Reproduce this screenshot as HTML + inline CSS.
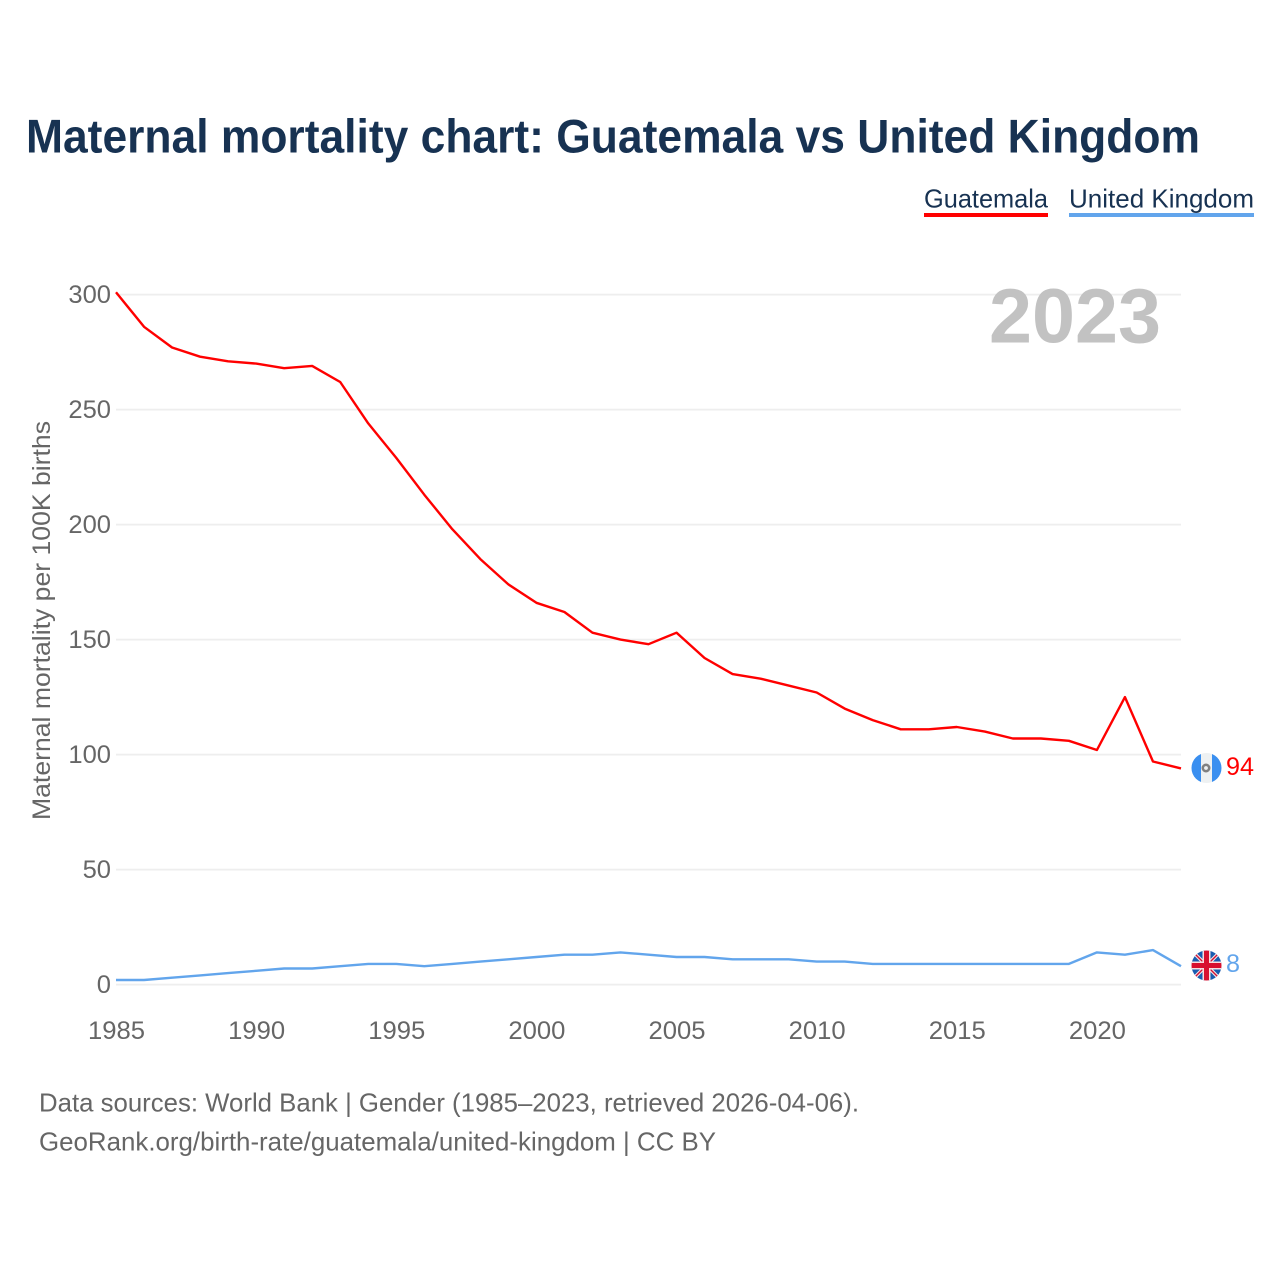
<!DOCTYPE html>
<html lang="en">
<head>
<meta charset="utf-8">
<title>Maternal mortality chart: Guatemala vs United Kingdom</title>
<style>
html,body{margin:0;padding:0;background:#fff;width:1280px;height:1280px;overflow:hidden}
svg{display:block;font-family:"Liberation Sans",sans-serif}
</style>
</head>
<body>
<svg id="chart" xmlns="http://www.w3.org/2000/svg" width="1280" height="1280" viewBox="0 0 1280 1280">
  <defs>
    <clipPath id="clip-gt"><circle cx="1206.5" cy="768" r="15"/></clipPath>
    <clipPath id="clip-uk"><circle cx="1206.5" cy="965.5" r="15"/></clipPath>
  </defs>
  <rect width="1280" height="1280" fill="#fff"/>
  <text x="26" y="152.5" font-size="47.5" font-weight="700" fill="#173252" textLength="1174" lengthAdjust="spacingAndGlyphs">Maternal mortality chart: Guatemala vs United Kingdom</text>

  <g>
    <text x="924" y="207.5" font-size="26" fill="#173252" textLength="124" lengthAdjust="spacingAndGlyphs">Guatemala</text>
    <rect x="924" y="213" width="124" height="4" fill="#ff0000"/>
  </g>
  <g>
    <text x="1069" y="207.5" font-size="26" fill="#173252" textLength="185" lengthAdjust="spacingAndGlyphs">United Kingdom</text>
    <rect x="1069" y="213" width="185" height="4" fill="#62a5ec"/>
  </g>

  <g id="grid"></g>
  <g id="y-ticks"></g>
  <g id="x-ticks"></g>

  <text transform="translate(50,820) rotate(-90)" font-size="25" fill="#666" textLength="399" lengthAdjust="spacingAndGlyphs">Maternal mortality per 100K births</text>

  <text x="989" y="342.5" font-size="77" font-weight="700" fill="#c2c2c2" textLength="172" lengthAdjust="spacingAndGlyphs">2023</text>

  <polyline id="line-guatemala" fill="none" stroke="#ff0000" stroke-width="2.4" stroke-linejoin="round"/>
  <polyline id="line-uk" fill="none" stroke="#62a5ec" stroke-width="2.4" stroke-linejoin="round"/>

  <g clip-path="url(#clip-gt)">
    <rect x="1191" y="752" width="31" height="32" fill="#eef1f2"/>
    <rect x="1191" y="752" width="10" height="32" fill="#3a8ff0"/>
    <rect x="1212" y="752" width="10" height="32" fill="#3a8ff0"/>
    <circle cx="1206" cy="768" r="3.2" fill="none" stroke="#808080" stroke-width="2.6"/>
  </g>

  <g clip-path="url(#clip-uk)">
    <rect x="1191" y="950" width="31" height="31" fill="#1a5cb0"/>
    <path d="M1191 950L1222 981M1222 950L1191 981" stroke="#f4e6e6" stroke-width="3.6"/>
    <path d="M1191 950L1222 981M1222 950L1191 981" stroke="#d21034" stroke-width="1.4"/>
    <rect x="1191" y="961.5" width="31" height="8" fill="#f6dfe0"/>
    <rect x="1202.5" y="950" width="8" height="31" fill="#f6dfe0"/>
    <rect x="1191" y="963" width="31" height="5" fill="#d8102f"/>
    <rect x="1204" y="950" width="5" height="31" fill="#d8102f"/>
  </g>

  <text id="end-guatemala" x="1226" y="775" font-size="25" fill="#ff0000" textLength="28" lengthAdjust="spacingAndGlyphs"></text>
  <text id="end-uk" x="1226" y="972" font-size="25" fill="#62a5ec" textLength="14" lengthAdjust="spacingAndGlyphs"></text>

  <text x="39" y="1111.5" font-size="26" fill="#666" textLength="820" lengthAdjust="spacingAndGlyphs">Data sources: World Bank | Gender (1985–2023, retrieved 2026-04-06).</text>
  <text x="39" y="1150.5" font-size="26" fill="#666" textLength="677" lengthAdjust="spacingAndGlyphs">GeoRank.org/birth-rate/guatemala/united-kingdom | CC BY</text>
</svg>
<script>
const years = [1985,1986,1987,1988,1989,1990,1991,1992,1993,1994,1995,1996,1997,1998,1999,2000,2001,2002,2003,2004,2005,2006,2007,2008,2009,2010,2011,2012,2013,2014,2015,2016,2017,2018,2019,2020,2021,2022,2023];
const guatemalaValues = [301,286,277,273,271,270,268,269,262,244,229,213,198,185,174,166,162,153,150,148,153,142,135,133,130,127,120,115,111,111,112,110,107,107,106,102,125,97,94];
const ukValues = [2,2,3,4,5,6,7,7,8,9,9,8,9,10,11,12,13,13,14,13,12,12,11,11,11,10,10,9,9,9,9,9,9,9,9,14,13,15,8];
const yTickLabels = [0,50,100,150,200,250,300];
const xTickLabels = [1985,1990,1995,2000,2005,2010,2015,2020];

const NS = 'http://www.w3.org/2000/svg';
function xScale(year) { return 116 + (year - 1985) * (1181 - 116) / (2023 - 1985); }
function yScale(value) { return 984.6 - value * (984.6 - 294.6) / 300; }
function pointsFor(values) {
  return values.map(function (v, i) { return xScale(years[i]).toFixed(2) + ',' + yScale(v).toFixed(2); }).join(' ');
}

const gridGroup = document.getElementById('grid');
const yGroup = document.getElementById('y-ticks');
const xGroup = document.getElementById('x-ticks');

yTickLabels.forEach(function (t) {
  const line = document.createElementNS(NS, 'line');
  
  
  line.setAttribute('x1', 116);
  line.setAttribute('x2', 1181);
  line.setAttribute('y1', yScale(t));
  line.setAttribute('y2', yScale(t));
  line.setAttribute('stroke', '#eeeeee');
  line.setAttribute('stroke-width', '1.8');
  gridGroup.appendChild(line);

  const label = document.createElementNS(NS, 'text');
  
  
  const str = String(t);
  label.setAttribute('x', 111 - 14.2 * str.length);
  label.setAttribute('y', yScale(t) + 8.2);
  label.setAttribute('font-size', '25');
  label.setAttribute('fill', '#666');
  label.setAttribute('textLength', 14.2 * str.length);
  label.setAttribute('lengthAdjust', 'spacingAndGlyphs');
  label.textContent = str;
  yGroup.appendChild(label);
});

xTickLabels.forEach(function (t) {
  const label = document.createElementNS(NS, 'text');
  
  
  label.setAttribute('x', xScale(t) - 28);
  label.setAttribute('y', 1039);
  label.setAttribute('font-size', '25');
  label.setAttribute('fill', '#666');
  label.setAttribute('textLength', 57);
  label.setAttribute('lengthAdjust', 'spacingAndGlyphs');
  label.textContent = String(t);
  xGroup.appendChild(label);
});

document.getElementById('line-guatemala').setAttribute('points', pointsFor(guatemalaValues));
document.getElementById('line-uk').setAttribute('points', pointsFor(ukValues));
document.getElementById('end-guatemala').textContent = String(guatemalaValues[guatemalaValues.length - 1]);
document.getElementById('end-uk').textContent = String(ukValues[ukValues.length - 1]);
</script>
</body>
</html>
